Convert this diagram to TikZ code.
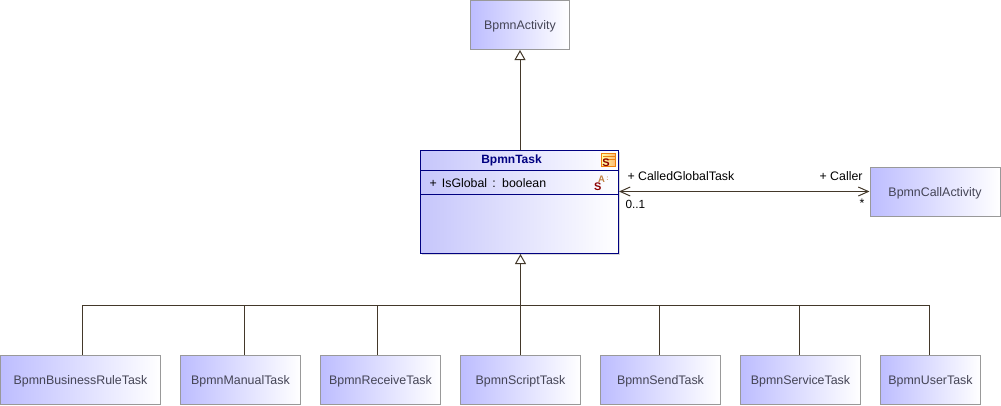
\documentclass[tikz,border=0pt]{standalone}
\usepackage{fontspec}
\setmainfont{Liberation Sans}
\usetikzlibrary{positioning, arrows.meta}
\definecolor{linebrown}{HTML}{43382A}
\definecolor{boxgray}{HTML}{999999}
\definecolor{boxtext}{HTML}{444455}
\definecolor{boxblue}{HTML}{BDBDFF}
\definecolor{taskblue}{HTML}{C6C6FB}
\definecolor{navy}{HTML}{000080}
\definecolor{darkred}{HTML}{8B0000}

\begin{document}
\begin{tikzpicture}[on grid,line width=1pt]
\tikzstyle{classbox}=[rectangle,draw=boxgray,left color=boxblue,right color=white,text=boxtext,font=\fontsize{12.4}{14}\selectfont,text height=10.5pt,text depth=1.5pt,inner sep=0pt,minimum height=49pt]
\tikzstyle{taskbox}=[rectangle,draw=navy,left color=taskblue,right color=white,inner sep=0pt,minimum width=198pt,minimum height=103pt]
\tikzstyle{txt}=[inner sep=0pt,text=black,font=\fontsize{12.35}{14}\selectfont]
\tikzstyle{assoc}=[draw=linebrown,{Straight Barb[length=10pt,width=9pt]}-{Straight Barb[length=10pt,width=9pt]}]
\tikzstyle{gen}=[draw=linebrown,-{Triangle[open,length=10pt,width=11pt,fill=white]}]

\useasboundingbox (0,0) rectangle (1001pt,-405pt);

%--- nodes ---
\fill[gray!30] (422pt,-152pt) rectangle (620pt,-255pt);
\node[taskbox] (task) at (519.5pt,-202pt) {};
\node[classbox,minimum width=99pt] (activity) [above=177pt of task,xshift=0.5pt] {BpmnActivity};
\node[classbox,minimum width=130pt] (call) [right=415.5pt of task,yshift=10.5pt] {BpmnCallActivity};
\node[classbox,minimum width=160pt] (rule) at (80.5pt,-379.75pt) {BpmnBusinessRuleTask};
\node[classbox,minimum width=120pt] (manual) [right=160pt of rule] {BpmnManualTask};
\node[classbox,minimum width=120pt] (receive) [right=140pt of manual] {BpmnReceiveTask};
\node[classbox,minimum width=120pt] (script) [right=140pt of receive] {BpmnScriptTask};
\node[classbox,minimum width=120pt] (send) [right=140pt of script] {BpmnSendTask};
\node[classbox,minimum width=120pt] (service) [right=140pt of send] {BpmnServiceTask};
\node[classbox,minimum width=100pt] (user) [right=130pt of service] {BpmnUserTask};

%--- task compartments ---
\coordinate (head) at (0,-170.5pt);
\coordinate (attr) at (0,-194.5pt);
\draw[navy] (task.west |- head) -- (task.east |- head);
\draw[navy] (task.west |- attr) -- (task.east |- attr);
\node[inner sep=0pt,text=navy,font=\fontsize{12}{14}\selectfont\bfseries] (taskname) at (511.5pt,-160pt) {BpmnTask};
\node[txt,anchor=west] (isglobal) at (429pt,-183pt) {\spaceskip=5.2pt + IsGlobal : boolean};

%--- icons ---
\draw[draw=orange!80!brown,left color=yellow!35,right color=orange!55,line width=0.8pt] (601.5pt,-153.5pt) rectangle (615.5pt,-166.5pt);
\draw[orange!70!brown,line width=0.8pt] (603pt,-156.5pt) -- (615pt,-156.5pt) (603pt,-159pt) -- (615pt,-159pt);
\node[inner sep=0pt,text=darkred,font=\fontsize{11}{11}\selectfont\bfseries] (classmark) at (606pt,-163pt) {S};
\node[inner sep=0pt,text=darkred,font=\fontsize{11}{11}\selectfont\bfseries] (attrmark) at (597.7pt,-186.8pt) {S};
\node[inner sep=0pt,text=brown,font=\fontsize{9.5}{9.5}\selectfont\bfseries] (attrvis) at (601.5pt,-179pt) {A};
\node[inner sep=0pt,text=brown!70,font=\fontsize{7}{7}\selectfont\bfseries] (attrdots) at (607.5pt,-179pt) {:};

%--- generalizations ---
\coordinate (rail) at (0,-305pt);
\draw[gen] (task.north -| activity.south) -- (activity.south);
\draw[gen] (script.north) -- (script.north |- task.south);
\draw[draw=linebrown] ([xshift=1.5pt]rule.north |- rail) -- ([xshift=-1.5pt]user.north |- rail);
\foreach \name/\shift in {rule/1.5pt,manual/3.5pt,receive/-3.5pt,send/-1.5pt,service/-1.5pt,user/-1.5pt}
  \draw[draw=linebrown] ([xshift=\shift]\name.north) -- ([xshift=\shift]\name.north |- rail);

%--- association ---
\draw[assoc] (task.east |- call.west) -- (call.west);
\node[txt,anchor=west] (calledrole) at (627pt,-176pt) {+ CalledGlobalTask};
\node[txt,anchor=east] (callerrole) at (863pt,-176pt) {+ Caller};
\node[txt,anchor=west,font=\fontsize{11.8}{14}\selectfont] (calledmult) at (625pt,-204pt) {0..1};
\node[txt] (callermult) at (862pt,-203pt) {*};

\end{tikzpicture}
\end{document}
